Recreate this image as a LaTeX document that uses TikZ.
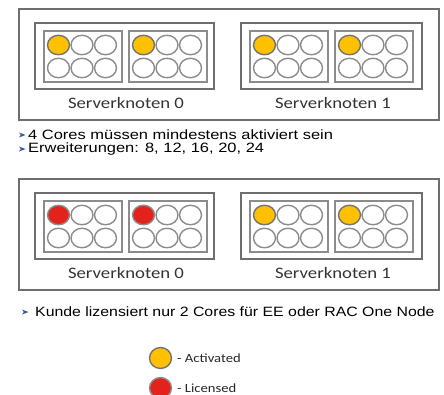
\documentclass[tikz,border=0pt]{standalone}
\usepackage{fontspec}
\usetikzlibrary{shapes.geometric}
\setmainfont{Liberation Sans}
\newfontfamily\calib{Carlito}
\definecolor{actc}{HTML}{FFC000}
\definecolor{licc}{HTML}{E3231B}
\definecolor{boxg}{HTML}{6E6E6E}
\definecolor{coreg}{HTML}{8C8C8C}
\definecolor{bulc}{HTML}{3A5A9A}
\tikzset{
  outerbox/.style={draw=boxg, line width=1.3pt},
  nodebox/.style={draw=boxg, line width=1.1pt},
  sockbox/.style={draw=coreg, line width=1.6pt},
  core/.style={ellipse, draw=coreg, line width=1.4pt, fill=white, minimum width=22pt, minimum height=19.5pt, inner sep=0pt},
  actcore/.style={core, fill=actc, draw=black!55},
  liccore/.style={core, fill=licc, draw=black!45},
  srvlabel/.style={font=\calib\fontsize{16}{18}\selectfont, text=black!80},
  bullettext/.style={anchor=west, font=\fontsize{13.5}{15}\selectfont, inner sep=0pt},
  legtext/.style={anchor=west, font=\calib\fontsize{12.5}{14}\selectfont, inner sep=0pt, text=black!85}
}
\newcommand{\sx}[1]{\scalebox{1.17}[1]{#1}}
\newcommand{\sxb}[1]{\scalebox{1.22}[1]{#1}}
\newcommand{\bul}[1]{\fill[bulc] (#1) ++(-3,2.5) -- ++(6.5,-2.5) -- ++(-6.5,-2.5) -- ++(1.8,2.5) -- cycle;}
% socket: #1 prefix, #2 x left, #3 y top, #4 first core style
\newcommand{\sock}[4]{%
  \draw[sockbox] (#2,#3) rectangle ++(78,51);
  \node[#4] (#1a) at (#2+14.5,#3+14) {};
  \node[core] (#1b) at (#2+38,#3+14) {};
  \node[core] (#1c) at (#2+61.5,#3+14) {};
  \node[core] (#1d) at (#2+14.5,#3+37) {};
  \node[core] (#1e) at (#2+38,#3+37) {};
  \node[core] (#1f) at (#2+61.5,#3+37) {};
}
% panel: #1 prefix, #2 y offset, #3 style for node0 first cores, #4 style for node1
\newcommand{\panel}[4]{%
  \draw[outerbox] (19,#2+9) rectangle (439,#2+120);
  \draw[nodebox] (35,#2+23) rectangle (214,#2+89);
  \draw[nodebox] (241,#2+23) rectangle (422,#2+89);
  \sock{#1s0}{44}{#2+31}{#3}
  \sock{#1s1}{129}{#2+31}{#3}
  \sock{#1s2}{250}{#2+31}{#4}
  \sock{#1s3}{335}{#2+31}{#4}
  \node[srvlabel] (#1l0) at (126,#2+103) {\sx{Serverknoten 0}};
  \node[srvlabel] (#1l1) at (333,#2+103) {\sx{Serverknoten 1}};
}
\begin{document}
\begin{tikzpicture}[x=1pt,y=-1pt]
\useasboundingbox (0,0) rectangle (444,394);
\clip (0,0) rectangle (444,394);
\panel{p}{0}{actcore}{actcore}
\bul{22,135}
\node[bullettext] (t1) at (28,135) {\sxb{4 Cores müssen mindestens aktiviert sein}};
\bul{22,149}
\node[bullettext] (t2) at (28,149) {\sxb{Erweiterungen: 8, 12, 16, 20, 24}};
\panel{q}{170}{liccore}{actcore}
\bul{25,312}
\node[bullettext] (t3) at (35,312) {\scalebox{1.175}[1]{Kunde lizensiert nur 2 Cores für EE oder RAC One Node}};
\node[actcore, minimum width=22pt, minimum height=21pt] (la) at (160.5,358) {};
\node[legtext] (lat) at (177,358) {\sx{- Activated}};
\node[liccore, minimum width=22pt, minimum height=21pt] (ll) at (160.5,388) {};
\node[legtext] (llt) at (177,388) {\sx{- Licensed}};
\end{tikzpicture}
\end{document}
